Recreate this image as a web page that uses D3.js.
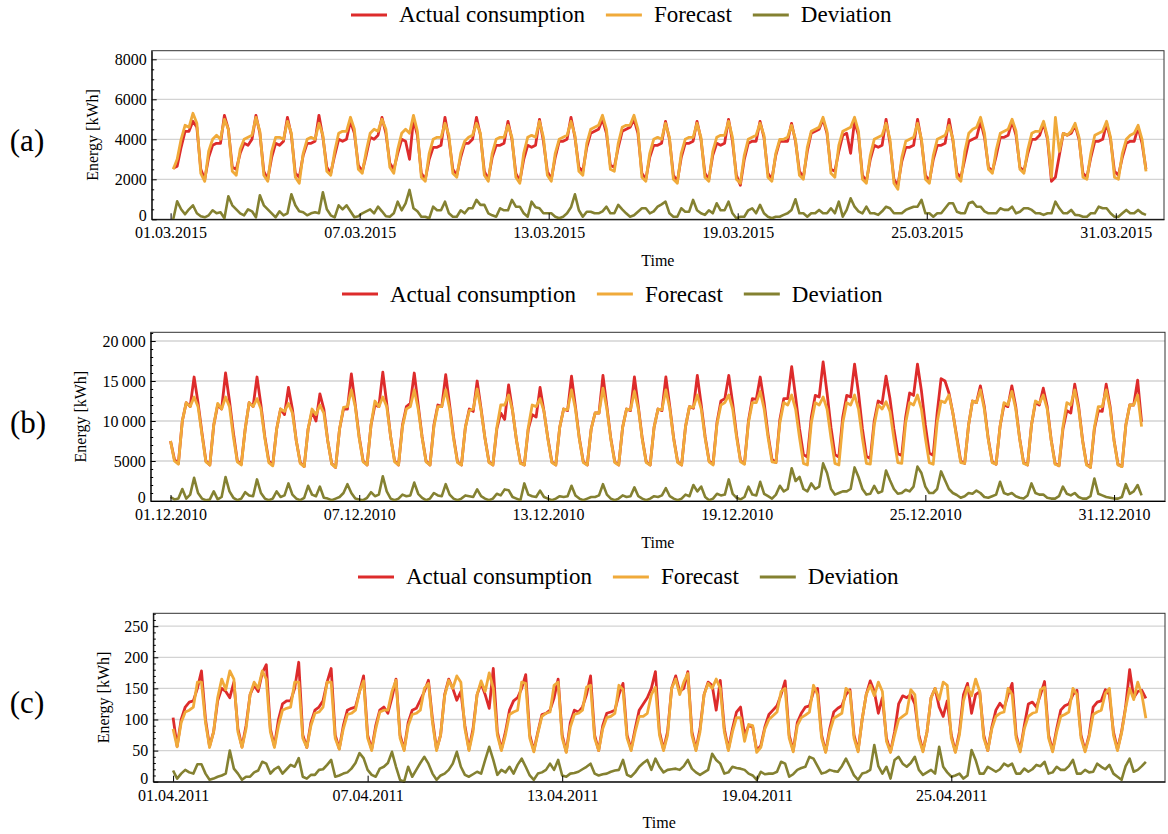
<!DOCTYPE html>
<html>
<head>
<meta charset="utf-8">
<script src="https://cdn.jsdelivr.net/npm/d3@7"></script>
<style>
body { margin: 0; background: #fff; }
svg { display: block; font-family: "Liberation Serif", "Times New Roman", serif; }
</style>
</head>
<body>
<svg width="1168" height="834"></svg>
<script>
var HOUR = 3600 * 1000, DAY = 24 * HOUR, STEP = 3 * HOUR;

var seriesNames = ["Actual consumption", "Forecast", "Deviation"];

// (a) March 2015, one value every 3 hours from 01.03.2015 02:00
var startA = Date.UTC(2015, 2, 1, 2);
var xTicksA = ["01.03.2015", "07.03.2015", "13.03.2015", "19.03.2015", "25.03.2015", "31.03.2015"];
var yTicksA = [0, 2000, 4000, 6000, 8000];
var actualA = [
  2550, 2650, 3600, 4400, 4400, 4900, 4600, 2500, 2000, 3100, 3700, 3800, 3800, 5200, 4500, 2600,
  2500, 3300, 3800, 3700, 4000, 5200, 4300, 2400, 2000, 3100, 3800, 3700, 3900, 5100, 4200, 2300,
  2100, 3200, 3800, 3800, 3900, 5200, 4100, 2600, 2300, 3200, 4000, 3900, 4000, 4900, 4300, 2700,
  2400, 3200, 4100, 4000, 4200, 5100, 4300, 2800, 2500, 3300, 4000, 3900, 3000, 5000, 4200, 2300,
  2000, 3000, 3600, 3600, 3700, 5100, 4000, 2500, 2200, 3100, 3800, 3800, 4000, 5100, 4200, 2400,
  2000, 3100, 3700, 3700, 3800, 4900, 4000, 2300, 1900, 3000, 3700, 3600, 3700, 5000, 3900, 2400,
  2000, 3100, 3900, 3900, 4000, 5100, 4100, 2600, 2400, 3600, 4300, 4400, 4500, 5000, 4300, 2700,
  2600, 3600, 4400, 4500, 4600, 5000, 4300, 2300, 2000, 3100, 3700, 3700, 3800, 4900, 4000, 2200,
  1900, 3100, 3800, 3800, 3900, 4900, 4000, 2300, 2000, 3200, 3800, 3700, 3800, 5000, 3900, 2200,
  1700, 3000, 3800, 3900, 3900, 4900, 4100, 2300, 2000, 3200, 3900, 3900, 3900, 4800, 3900, 2400,
  2100, 3400, 4300, 4400, 4500, 5000, 4300, 2500, 2400, 3400, 4200, 4300, 3300, 4900, 4200, 2200,
  1900, 3000, 3700, 3600, 3700, 5000, 3800, 2000, 1700, 2900, 3600, 3600, 3700, 5000, 3900, 2200,
  1900, 3000, 3700, 3700, 3800, 5000, 3900, 2300, 2100, 3000, 3900, 4000, 4100, 4900, 4100, 2600,
  2400, 3200, 4100, 4100, 4200, 4900, 4200, 2600, 2400, 3300, 4000, 4000, 4200, 4800, 4000, 1900,
  2100, 3200, 4300, 4200, 4300, 4700, 4000, 2300, 2100, 3100, 3900, 3900, 4000, 4800, 4000, 2400,
  2200, 3100, 3800, 3900, 3900, 4600, 3800, 2500
];
var forecastA = [
  2500, 3000, 4000, 4700, 4600, 5300, 4800, 2300, 1900, 3400, 4000, 4200, 4000, 5000, 4500, 2400,
  2200, 3500, 4000, 4100, 4200, 5100, 4400, 2200, 1900, 3400, 4100, 4100, 4000, 4900, 4300, 2100,
  1800, 3300, 4000, 4100, 4000, 4800, 4200, 2400, 2200, 3400, 4300, 4400, 4400, 5100, 4500, 2500,
  2300, 3400, 4300, 4500, 4400, 5000, 4500, 2600, 2300, 3500, 4300, 4500, 4300, 5200, 4400, 2100,
  1900, 3300, 4000, 4100, 4100, 4800, 4200, 2300, 2100, 3300, 3900, 4100, 4200, 4800, 4300, 2200,
  1900, 3300, 4000, 4100, 4100, 4700, 4100, 2100, 1800, 3300, 4100, 4200, 4100, 4900, 4100, 2200,
  1900, 3300, 4000, 4100, 4200, 4900, 4200, 2400, 2200, 3800, 4500, 4600, 4700, 5200, 4500, 2500,
  2400, 3800, 4600, 4700, 4700, 5200, 4500, 2100, 1900, 3300, 4000, 4100, 4000, 4800, 4100, 2000,
  1800, 3300, 4000, 4100, 4100, 4800, 4100, 2100, 1900, 3400, 4100, 4200, 4200, 4900, 4100, 2000,
  1800, 3200, 4000, 4100, 4200, 4800, 4200, 2100, 1900, 3300, 4000, 4000, 4100, 4700, 4000, 2200,
  2000, 3600, 4400, 4500, 4600, 5100, 4400, 2300, 2100, 3700, 4400, 4500, 4600, 5100, 4400, 2000,
  1800, 3200, 4000, 4100, 4200, 4800, 4000, 1800, 1500, 3100, 3900, 4000, 4100, 4800, 4000, 2000,
  1800, 3200, 4000, 4100, 4200, 4700, 4000, 2100, 1900, 3400, 4300, 4500, 4600, 5100, 4300, 2500,
  2300, 3500, 4300, 4400, 4500, 5000, 4400, 2500, 2300, 3500, 4300, 4400, 4400, 4900, 4100, 2100,
  5100, 3400, 4300, 4200, 4400, 4800, 4100, 2100, 2000, 3300, 4200, 4300, 4400, 4900, 4100, 2100,
  2000, 3300, 4000, 4200, 4300, 4700, 4000, 2400
];
var deviationA = [
  0, 900, 500, 250, 500, 700, 300, 150, 100, 200, 450, 300, 350, 50, 1150, 700,
  500, 300, 200, 500, 400, 100, 1200, 700, 500, 300, 100, 400, 200, 300, 1250, 700,
  400, 350, 200, 300, 350, 300, 1350, 500, 200, 100, 700, 500, 700, 400, 100, 150,
  300, 400, 500, 300, 630, 400, 150, 130, 300, 880, 450, 800, 1470, 550, 400, 130,
  130, 50, 630, 450, 450, 880, 300, 130, 130, 450, 300, 550, 550, 970, 720, 720,
  300, 200, 130, 550, 450, 450, 970, 630, 630, 300, 130, 880, 600, 550, 300, 300,
  300, 130, 50, 130, 300, 600, 1250, 450, 130, 380, 380, 300, 300, 400, 630, 300,
  300, 720, 500, 300, 130, 200, 380, 550, 550, 300, 400, 630, 750, 880, 300, 130,
  130, 550, 380, 380, 970, 450, 300, 220, 450, 300, 800, 450, 450, 880, 300, 50,
  130, 130, 450, 550, 300, 720, 300, 130, 50, 130, 130, 220, 300, 470, 1000, 300,
  300, 130, 300, 300, 470, 300, 300, 550, 300, 880, 130, 470, 1050, 630, 400, 300,
  630, 300, 300, 220, 400, 630, 550, 300, 300, 300, 470, 550, 630, 630, 970, 300,
  300, 130, 300, 300, 550, 800, 800, 380, 300, 300, 800, 880, 630, 630, 400, 300,
  300, 300, 550, 470, 470, 630, 300, 380, 550, 550, 470, 300, 300, 220, 300, 300,
  880, 550, 300, 300, 470, 220, 200, 130, 130, 300, 300, 630, 550, 550, 300, 130,
  130, 300, 470, 300, 300, 470, 300, 220
];

// (b) December 2010, one value every 3 hours from 01.12.2010 00:00
var startB = Date.UTC(2010, 11, 1, 0);
var xTicksB = ["01.12.2010", "07.12.2010", "13.12.2010", "19.12.2010", "25.12.2010", "31.12.2010"];
var yTicksB = [0, 5000, 10000, 15000, 20000];
var actualB = [
  7500, 5200, 4700, 10000, 12300, 11800, 15500, 12300, 8500, 5000, 4500, 9500, 12000, 11500, 16000, 12500,
  8500, 5000, 4600, 9000, 12300, 11800, 15500, 12000, 8000, 5000, 4500, 9000, 11500, 10800, 14200, 11500,
  7500, 4800, 4300, 9000, 11200, 10000, 13400, 11500, 7500, 4700, 4200, 9000, 11500, 11500, 15900, 12000,
  8000, 5000, 4500, 9500, 12000, 11800, 16100, 12200, 8000, 5000, 4500, 9500, 11800, 12200, 16000, 12000,
  8000, 5000, 4500, 9500, 12000, 11800, 15800, 12000, 8000, 4900, 4500, 9200, 11500, 11200, 15000, 11500,
  7800, 4900, 4500, 9000, 11000, 10200, 14500, 11300, 7600, 4800, 4500, 9000, 10800, 10500, 14200, 11200,
  7800, 4900, 4500, 9200, 11500, 11300, 15600, 11800, 7800, 4900, 4500, 9000, 11000, 11000, 15700, 11800,
  7800, 4900, 4500, 9200, 11500, 11300, 15500, 11800, 7800, 4900, 4500, 9200, 11500, 11300, 15500, 11800,
  7800, 4900, 4500, 9300, 11800, 11600, 15700, 12000, 8000, 5000, 4600, 9800, 12500, 12800, 15700, 12200,
  8200, 5000, 4700, 10000, 12800, 12700, 15500, 12300, 8300, 5200, 4800, 10200, 12800, 12800, 16800, 13000,
  9000, 5800, 5500, 10500, 13200, 13000, 17400, 13500, 9200, 5800, 5500, 10500, 13200, 13000, 17100, 13500,
  9000, 5600, 5300, 10000, 12500, 12200, 15600, 12800, 9000, 5900, 5700, 10500, 13500, 13200, 17100, 13800,
  9500, 6000, 5700, 11000, 15300, 15000, 13500, 11000, 8000, 5000, 4700, 9500, 12500, 12300, 14400, 11800,
  7800, 4900, 4600, 9300, 12000, 11800, 14400, 11800, 7800, 4800, 4500, 9500, 12300, 12000, 14100, 11800,
  7700, 4700, 4400, 9000, 11300, 11000, 14600, 11800, 7600, 4600, 4200, 9000, 11300, 11200, 14600, 11800,
  7600, 4600, 4300, 9500, 12000, 12000, 15100, 9900
];
var forecastB = [
  7500, 5000, 4600, 10000, 12300, 11800, 13000, 11800, 8300, 4900, 4500, 9500, 12200, 11500, 13000, 11800,
  8000, 4900, 4500, 9000, 12300, 11800, 12800, 11500, 7800, 4800, 4400, 9000, 11500, 11200, 12200, 11000,
  7500, 4700, 4300, 9000, 11500, 10800, 12000, 11000, 7500, 4600, 4200, 9000, 11700, 11800, 13900, 11800,
  7800, 4900, 4500, 9500, 12500, 11800, 13000, 11800, 8000, 4900, 4500, 9300, 11500, 11800, 13900, 11500,
  7900, 4900, 4500, 9300, 11800, 11800, 13900, 11500, 7800, 4800, 4500, 9200, 11300, 11500, 14000, 11300,
  7800, 4800, 4500, 9200, 12000, 12000, 13250, 11300, 7600, 4700, 4500, 9200, 12000, 11800, 12800, 11200,
  7700, 4800, 4500, 9200, 11500, 11400, 13900, 11500, 7700, 4800, 4500, 9000, 11000, 11000, 14100, 11500,
  7700, 4800, 4500, 9200, 11500, 11400, 13700, 11500, 7700, 4800, 4500, 9200, 11500, 11400, 13900, 11500,
  7700, 4800, 4500, 9300, 11800, 11700, 13250, 11500, 7800, 4900, 4500, 9600, 12000, 12300, 13250, 11500,
  7900, 4900, 4600, 9800, 12300, 12300, 13700, 11500, 7900, 4900, 4800, 9800, 12300, 12000, 13250, 11500,
  7900, 4700, 4500, 9800, 12300, 12000, 13000, 11500, 7900, 4700, 4500, 9800, 12300, 12000, 13250, 11500,
  7800, 4700, 4600, 9500, 12000, 11500, 12400, 11200, 7800, 4800, 4700, 9800, 12300, 12000, 13250, 11500,
  7900, 4800, 4600, 9800, 12500, 12300, 13250, 11000, 7800, 4800, 4700, 9500, 12500, 12300, 13900, 11500,
  7700, 4800, 4600, 9300, 12300, 12000, 13700, 11500, 7700, 4700, 4500, 9500, 12500, 12200, 13250, 11500,
  7600, 4600, 4400, 9300, 12300, 12000, 13900, 11500, 7500, 4500, 4200, 9200, 11800, 11800, 13900, 11500,
  7500, 4500, 4300, 9500, 12000, 12000, 13250, 9300
];
var deviationB = [
  500, 200, 300, 1500, 300, 800, 2900, 1000, 300, 100, 200, 1200, 200, 500, 3000, 1200,
  400, 100, 300, 1100, 700, 600, 2700, 1000, 300, 100, 300, 1200, 500, 700, 2200, 800,
  300, 100, 400, 1900, 800, 600, 1800, 400, 300, 100, 300, 500, 1000, 2100, 1000, 300,
  200, 100, 400, 1100, 600, 800, 3100, 1200, 300, 100, 300, 800, 600, 700, 2300, 900,
  400, 100, 300, 1000, 700, 600, 2100, 800, 300, 100, 300, 700, 600, 500, 1450, 600,
  300, 100, 300, 900, 700, 1450, 1350, 500, 300, 100, 2200, 800, 600, 500, 1300, 500,
  300, 100, 300, 600, 500, 600, 1900, 700, 300, 100, 300, 500, 500, 700, 2100, 800,
  300, 100, 300, 700, 500, 600, 1700, 600, 300, 100, 300, 600, 500, 700, 1600, 600,
  300, 100, 300, 800, 600, 2000, 1200, 1800, 500, 100, 300, 900, 700, 800, 2700, 900,
  400, 200, 500, 1800, 800, 700, 2400, 900, 600, 300, 800, 1900, 1200, 1500, 4100, 2500,
  3000, 1500, 1200, 2200, 1500, 1800, 4700, 3500, 1500, 800, 1000, 1200, 1200, 1500, 4200, 3000,
  1500, 800, 900, 1900, 1000, 1200, 3800, 2600, 1500, 900, 1000, 1400, 1200, 1800, 4300, 3500,
  1800, 1000, 1000, 1500, 3700, 2600, 1500, 1000, 750, 400, 600, 1000, 900, 1300, 1000, 500,
  400, 600, 800, 2400, 1000, 800, 1000, 600, 400, 300, 700, 2200, 1000, 800, 800, 400,
  300, 300, 600, 1800, 900, 700, 1000, 500, 300, 300, 600, 2800, 900, 700, 500, 400,
  300, 300, 500, 2100, 900, 1200, 2000, 700
];

// (c) April 2011, one value every 3 hours from 01.04.2011 00:00
var startC = Date.UTC(2011, 3, 1, 0);
var xTicksC = ["01.04.2011", "07.04.2011", "13.04.2011", "19.04.2011", "25.04.2011"];
var yTicksC = [0, 50, 100, 150, 200, 250];
var actualC = [
  103, 57, 100, 120, 128, 130, 150, 178, 100, 57, 80, 130, 150, 145, 135, 160,
  85, 56, 90, 140, 155, 145, 175, 188, 85, 57, 100, 125, 130, 130, 150, 192,
  75, 55, 95, 115, 120, 130, 160, 182, 75, 53, 90, 115, 118, 120, 145, 170,
  75, 52, 90, 115, 120, 110, 135, 165, 75, 52, 95, 115, 118, 131, 145, 163,
  100, 52, 75, 140, 165, 150, 131, 145, 90, 52, 85, 140, 158, 140, 118, 182,
  80, 52, 80, 115, 130, 135, 150, 172, 75, 50, 80, 108, 110, 115, 135, 165,
  75, 48, 95, 115, 112, 120, 140, 170, 75, 50, 90, 110, 112, 115, 140, 158,
  75, 52, 85, 115, 125, 135, 150, 177, 80, 52, 80, 150, 170, 145, 150, 177,
  80, 52, 85, 140, 160, 155, 115, 163, 85, 52, 85, 112, 120, 75, 90, 88,
  50, 58, 88, 108, 115, 122, 140, 162, 75, 50, 95, 110, 120, 122, 145, 150,
  75, 48, 85, 112, 118, 122, 140, 148, 75, 50, 100, 140, 162, 145, 110, 135,
  70, 48, 80, 125, 138, 135, 140, 125, 75, 50, 80, 135, 150, 120, 105, 130,
  75, 48, 80, 140, 158, 110, 140, 145, 75, 50, 88, 115, 126, 118, 140, 158,
  75, 50, 90, 125, 128, 120, 140, 161, 75, 50, 85, 115, 122, 125, 140, 147,
  75, 50, 75, 120, 128, 130, 148, 140, 80, 52, 80, 120, 180, 135, 145, 147,
  134
];
var forecastC = [
  85, 56, 95, 112, 115, 120, 160, 160, 95, 55, 80, 135, 165, 148, 178, 165,
  80, 55, 85, 140, 160, 150, 178, 165, 80, 55, 90, 115, 118, 120, 160, 160,
  70, 55, 90, 110, 112, 120, 160, 160, 70, 52, 85, 108, 110, 115, 145, 162,
  70, 50, 85, 112, 115, 115, 145, 163, 70, 50, 90, 108, 110, 115, 150, 158,
  95, 50, 75, 138, 163, 150, 170, 160, 85, 50, 80, 140, 162, 145, 175, 150,
  75, 50, 75, 108, 112, 115, 160, 158, 70, 48, 78, 105, 110, 112, 155, 160,
  70, 47, 88, 108, 110, 115, 152, 155, 70, 50, 85, 103, 105, 110, 155, 148,
  70, 50, 80, 105, 105, 110, 140, 152, 75, 50, 75, 150, 165, 140, 160, 174,
  75, 50, 80, 140, 158, 150, 165, 150, 80, 50, 80, 103, 103, 65, 92, 90,
  47, 55, 85, 100, 106, 112, 145, 150, 70, 48, 90, 103, 107, 112, 155, 140,
  70, 47, 80, 102, 106, 110, 150, 145, 70, 48, 100, 140, 155, 138, 160, 145,
  65, 47, 75, 100, 105, 110, 148, 140, 70, 48, 80, 135, 150, 132, 160, 155,
  70, 47, 75, 130, 152, 138, 165, 145, 70, 50, 85, 105, 110, 112, 150, 140,
  70, 48, 85, 105, 110, 112, 148, 152, 70, 48, 80, 105, 108, 112, 150, 140,
  70, 48, 72, 108, 112, 115, 142, 150, 75, 50, 78, 118, 150, 132, 160, 140,
  102
];
var deviationC = [
  18, 5, 13, 19, 15, 13, 28, 28, 13, 3, 5, 8, 10, 13, 50, 21,
  13, 3, 8, 8, 15, 18, 32, 29, 13, 20, 24, 13, 20, 27, 24, 38,
  8, 5, 11, 11, 19, 20, 27, 35, 8, 10, 13, 15, 21, 30, 46, 38,
  19, 11, 8, 21, 24, 30, 48, 24, 3, 0, 24, 8, 19, 30, 40, 29,
  13, 3, 10, 13, 19, 29, 48, 24, 11, 8, 12, 16, 13, 35, 56, 35,
  11, 19, 15, 24, 13, 27, 37, 24, 10, 3, 13, 15, 19, 29, 19, 35,
  10, 8, 13, 14, 16, 20, 24, 29, 13, 10, 12, 13, 16, 18, 19, 35,
  11, 8, 15, 24, 30, 35, 19, 37, 24, 15, 19, 20, 21, 19, 25, 35,
  21, 15, 11, 15, 19, 45, 35, 29, 13, 15, 24, 22, 21, 19, 13, 10,
  3, 16, 12, 13, 13, 16, 32, 29, 8, 12, 19, 22, 24, 40, 37, 25,
  13, 15, 19, 17, 16, 25, 37, 24, 10, 3, 13, 15, 19, 59, 25, 13,
  24, 5, 35, 40, 29, 24, 30, 40, 19, 11, 15, 19, 13, 56, 24, 15,
  8, 10, 13, 5, 10, 51, 35, 13, 13, 24, 20, 16, 20, 29, 25, 29,
  13, 13, 21, 16, 20, 27, 25, 32, 13, 15, 24, 19, 19, 25, 35, 13,
  13, 19, 15, 16, 29, 24, 20, 27, 13, 8, 3, 25, 37, 16, 19, 25,
  32
];

var colors = ["#dd2b2b", "#f0aa3a", "#848131"];
var parseDay = d3.utcParse("%d.%m.%Y");
var fmtDay = d3.utcFormat("%d.%m.%Y");
var svg = d3.select("svg");

var spaced = function (d) {
  return d >= 10000 ? d3.format(",")(d).replace(",", "\u2009") : String(d);
};

var panels = [
  { tag: "(a)", start: startA, xTicks: xTicksA, yTicks: yTicksA, data: [actualA, forecastA, deviationA],
    fmt: String, minor: 500, ymax: 8430, pad: [-0.6, 31.53],
    left: 151.7, right: 1164, top: 50.7, bottom: 219.3,
    legendX: 351, legendLineY: 15, legendTextY: 21.5, yLabelX: 92, timeY: 266, tagX: 27, tagY: 151 },
  { tag: "(b)", start: startB, xTicks: xTicksB, yTicks: yTicksB, data: [actualB, forecastB, deviationB],
    fmt: spaced, minor: 1000, ymax: 21090, pad: [-0.63, 31.62],
    left: 150.7, right: 1165, top: 332.3, bottom: 501,
    legendX: 342, legendLineY: 294, legendTextY: 301.7, yLabelX: 80, timeY: 548, tagX: 28, tagY: 433 },
  { tag: "(c)", start: startC, xTicks: xTicksC, yTicks: yTicksC, data: [actualC, forecastC, deviationC],
    fmt: String, minor: 10, ymax: 270.7, pad: [-0.61, 30.59],
    left: 153.3, right: 1165, top: 613.3, bottom: 781.7,
    legendX: 358, legendLineY: 577, legendTextY: 584, yLabelX: 103, timeY: 828, tagX: 27, tagY: 713 }
];

panels.forEach(drawPanel);

function drawPanel(p) {
  var t0 = parseDay(p.xTicks[0]).getTime();
  var x = d3.scaleUtc()
    .domain([new Date(t0 + p.pad[0] * DAY), new Date(t0 + p.pad[1] * DAY)])
    .range([p.left, p.right]);
  var y = d3.scaleLinear().domain([0, p.ymax]).range([p.bottom, p.top]);
  var g = svg.append("g");

  // horizontal grid
  g.selectAll("line.grid").data(p.yTicks.slice(1)).enter().append("line")
    .attr("class", "grid")
    .attr("x1", p.left).attr("x2", p.right)
    .attr("y1", function (d) { return y(d); }).attr("y2", function (d) { return y(d); })
    .style("stroke", "#d3d3d3").style("stroke-width", 1.3);

  g.append("rect")
    .attr("x", p.left).attr("y", p.top)
    .attr("width", p.right - p.left).attr("height", p.bottom - p.top)
    .style("fill", "none").style("stroke", "#333").style("stroke-width", 1);

  var line = d3.line()
    .x(function (d, i) { return x(new Date(p.start + i * STEP)); })
    .y(function (d) { return y(d); });

  p.data.forEach(function (vals, k) {
    g.append("path").datum(vals)
      .attr("d", line)
      .style("fill", "none")
      .style("stroke", colors[k])
      .style("stroke-width", k == 2 ? 2.6 : 2.8)
      .style("stroke-linejoin", "round");
  });

  // axes, ticks pointing inside
  var yAxis = d3.axisLeft(y).tickValues(p.yTicks).tickFormat(p.fmt)
    .tickSizeInner(-5).tickSizeOuter(0).tickPadding(5);
  var minorTicks = d3.range(0, p.ymax, p.minor).filter(function (v) { return p.yTicks.indexOf(v) < 0; });
  var yMinor = d3.axisLeft(y).tickValues(minorTicks).tickFormat("")
    .tickSizeInner(-2.5).tickSizeOuter(0);
  var xAxis = d3.axisBottom(x).tickValues(p.xTicks.map(parseDay)).tickFormat(fmtDay)
    .tickSizeInner(-6).tickSizeOuter(0).tickPadding(7.5);

  g.append("g").attr("transform", "translate(" + p.left + ",0)").call(yMinor)
    .select(".domain").remove();
  var ya = g.append("g").attr("transform", "translate(" + p.left + ",0)").call(yAxis);
  var xa = g.append("g").attr("transform", "translate(0," + p.bottom + ")").call(xAxis);
  [ya, xa].forEach(function (a) {
    a.attr("font-family", "Liberation Serif, serif").attr("font-size", 16);
  });
  // the zero label sits just above the first date label
  ya.selectAll(".tick text").filter(function (d) { return d === 0; }).attr("dy", "0.1em");

  g.append("text")
    .attr("transform", "translate(" + p.yLabelX + "," + (p.top + p.bottom) / 2 + ") rotate(-90)")
    .attr("text-anchor", "middle").attr("dominant-baseline", "central")
    .style("font-size", "16px")
    .text("Energy [kWh]");

  g.append("text")
    .attr("x", (p.left + p.right) / 2).attr("y", p.timeY)
    .attr("text-anchor", "middle")
    .style("font-size", "16px")
    .text("Time");

  g.append("text")
    .attr("x", p.tagX).attr("y", p.tagY)
    .attr("text-anchor", "middle")
    .style("font-size", "31px")
    .text(p.tag);

  // legend
  var lx = p.legendX;
  seriesNames.forEach(function (name, k) {
    g.append("line")
      .attr("x1", lx).attr("x2", lx + 36)
      .attr("y1", p.legendLineY).attr("y2", p.legendLineY)
      .style("stroke", colors[k]).style("stroke-width", 3);
    var t = g.append("text")
      .attr("x", lx + 48).attr("y", p.legendTextY)
      .style("font-size", "23px")
      .text(name);
    lx += 48 + t.node().getComputedTextLength() + 21;
  });
}
</script>
</body>
</html>
